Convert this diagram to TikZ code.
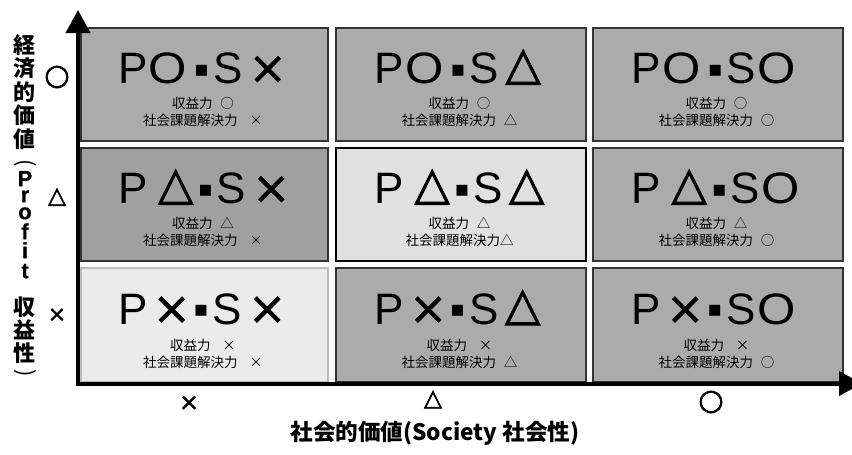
\documentclass[tikz,border=0pt]{standalone}
\usepackage{fontspec}
\usepackage{graphicx}
\usetikzlibrary{arrows.meta,calc}
\setmainfont{Noto Sans CJK JP}
\newfontfamily\jpf{Noto Sans CJK JP}
\newfontfamily\latf{Liberation Sans}
\newfontfamily\latvf[FakeBold=0.6]{Liberation Sans}
\newfontfamily\dvf{DejaVu Sans}
\newfontfamily\dvmf[FakeBold=1]{DejaVu Sans}
\newfontfamily\dvbf[FakeBold=2]{DejaVu Sans}
\definecolor{boxgray}{HTML}{ABABAB}
\definecolor{boxdark}{HTML}{A0A0A0}
\definecolor{boxlight}{HTML}{E0E0E0}
\definecolor{boxpale}{HTML}{EBEBEB}
\definecolor{edgedark}{HTML}{333333}
\definecolor{edgepale}{HTML}{BDBDBD}
% glyph placed with its centre #1 pt from the start
\newcommand\gl[2]{\makebox[0pt][l]{\hspace*{#1pt}\makebox[0pt][c]{#2}}}
\newcommand\tP{{\latf P}}
\newcommand\tS{{\latf S}}
\newcommand\tO{{\latf\scalebox{1.12}[1]{O}}}
\newcommand\tT{\raisebox{4.5pt}{\dvbf\fontsize{46}{46}\selectfont △}}
\newcommand\tX{{\dvmf\fontsize{46}{46}\selectfont ×}}
\newcommand\tD{\raisebox{7.5pt}{\dvf\fontsize{22}{22}\selectfont ▪}}
% #1 second glyph, #2 its centre, #3 dot centre, #4 S centre, #5 last glyph, #6 its centre
\newcommand\ttl[6]{\gl{0}{\tP}\gl{#2}{#1}\gl{#3}{\tD}\gl{#4}{\tS}\gl{#6}{#5}}
\newcommand\vc[2]{\rule{0pt}{#1pt}\smash{#2}\\}
\begin{document}
\begin{tikzpicture}[x=1pt,y=-1pt,
  cell/.style={draw=edgedark, line width=2.4pt, minimum height=112.6pt, inner sep=0pt, outer sep=0pt},
  colA/.style={minimum width=246.6pt},
  colB/.style={minimum width=249.6pt},
  title/.style={anchor=base west, inner sep=0pt, font=\fontsize{44}{44}\selectfont},
  sub/.style={inner sep=0pt, font=\jpf\fontsize{13.5}{14}\selectfont},
  tick/.style={inner sep=0pt, font=\dvbf\fontsize{29}{29}\selectfont},
  trig/.style={inner sep=0pt, font=\dvbf\fontsize{23}{23}\selectfont},
  cross/.style={inner sep=0pt, font=\dvmf\fontsize{22}{22}\selectfont},
  axis/.style={line width=4pt, -{Triangle[length=23pt,width=24pt]}},
  axlabel/.style={inner sep=0pt, font=\jpf\bfseries\fontsize{22.6}{24}\selectfont}]
\useasboundingbox (0,0) rectangle (852,455);
% cells
\node[cell, colA, fill=boxgray] (b11) at (204.5,84.5) {};
\node[cell, colB, fill=boxgray] (b12) at (461,84.5) {};
\node[cell, colB, fill=boxgray] (b13) at (718,84.5) {};
\node[cell, colA, fill=boxdark] (b21) at (204.5,204.5) {};
\node[cell, colB, fill=boxlight, draw=black] (b22) at (461,204.5) {};
\node[cell, colB, fill=boxgray] (b23) at (718,204.5) {};
\node[cell, colA, fill=boxpale, draw=edgepale, minimum height=113.6pt] (b31) at (204.5,325) {};
\node[cell, colB, fill=boxgray, minimum height=113.6pt] (b32) at (461,325) {};
\node[cell, colB, fill=boxgray, minimum height=113.6pt] (b33) at (718,325) {};
% titles
\node[title] (t11) at ($(b11.center)+(-72.5,-1)$) {\ttl{\tO}{35}{69}{95}{\tX}{135}};
\node[title] (t12) at ($(b12.center)+(-72.5,-1)$) {\ttl{\tO}{35}{69}{95}{\tT}{134}};
\node[title] (t13) at ($(b13.center)+(-72.5,-1)$) {\ttl{\tO}{35}{69}{95}{\tO}{130.5}};
\node[title] (t21) at ($(b21.center)+(-72.5,-1)$) {\ttl{\tT}{43}{73}{98.5}{\tX}{138.5}};
\node[title] (t22) at ($(b22.center)+(-72.5,-1)$) {\ttl{\tT}{43}{73}{98.5}{\tT}{137.5}};
\node[title] (t23) at ($(b23.center)+(-72.5,-1)$) {\ttl{\tT}{43}{73}{98.5}{\tO}{134}};
\node[title] (t31) at ($(b31.center)+(-72.5,-1)$) {\ttl{\tX}{39}{68.5}{94.5}{\tX}{134.5}};
\node[title] (t32) at ($(b32.center)+(-72.5,-1)$) {\ttl{\tX}{39}{68.5}{94.5}{\tT}{133.5}};
\node[title] (t33) at ($(b33.center)+(-72.5,-1)$) {\ttl{\tX}{39}{68.5}{94.5}{\tO}{130}};
% sub lines
\node[sub] (s11a) at ($(b11.center)+(-1.5,18.5)$) {収益力\hspace{8pt}○};
\node[sub] (s11b) at ($(b11.center)+(-1.5,35.5)$) {社会課題解決力\hspace{12pt}×};
\node[sub] (s12a) at ($(b12.center)+(-1.5,18.5)$) {収益力\hspace{8pt}○};
\node[sub] (s12b) at ($(b12.center)+(-1.5,35.5)$) {社会課題解決力\hspace{8pt}△};
\node[sub] (s13a) at ($(b13.center)+(-1.5,18.5)$) {収益力\hspace{8pt}○};
\node[sub] (s13b) at ($(b13.center)+(-1.5,35.5)$) {社会課題解決力\hspace{8pt}○};
\node[sub] (s21a) at ($(b21.center)+(-1.5,18.5)$) {収益力\hspace{8pt}△};
\node[sub] (s21b) at ($(b21.center)+(-1.5,35.5)$) {社会課題解決力\hspace{12pt}×};
\node[sub] (s22a) at ($(b22.center)+(-1.5,18.5)$) {収益力\hspace{8pt}△};
\node[sub] (s22b) at ($(b22.center)+(-1.5,35.5)$) {社会課題解決力△};
\node[sub] (s23a) at ($(b23.center)+(-1.5,18.5)$) {収益力\hspace{8pt}△};
\node[sub] (s23b) at ($(b23.center)+(-1.5,35.5)$) {社会課題解決力\hspace{8pt}○};
\node[sub] (s31a) at ($(b31.center)+(-1.5,20.5)$) {収益力\hspace{12pt}×};
\node[sub] (s31b) at ($(b31.center)+(-1.5,37)$) {社会課題解決力\hspace{12pt}×};
\node[sub] (s32a) at ($(b32.center)+(-1.5,20.5)$) {収益力\hspace{12pt}×};
\node[sub] (s32b) at ($(b32.center)+(-1.5,37)$) {社会課題解決力\hspace{8pt}△};
\node[sub] (s33a) at ($(b33.center)+(-1.5,20.5)$) {収益力\hspace{12pt}×};
\node[sub] (s33b) at ($(b33.center)+(-1.5,37)$) {社会課題解決力\hspace{8pt}○};
% axes
\coordinate (yo) at (78,386);
\coordinate (ytip) at (78,10);
\coordinate (xo) at (76,383.5);
\coordinate (xtip) at (862,383.5);
\draw[axis] (yo) -- (ytip);
\draw[axis] (xo) -- (xtip);
% ticks
\node[tick] (ly1) at (57,77) {○};
\node[trig] (ly2) at (57,197) {△};
\node[cross] (ly3) at (57,315) {×};
\node[cross, font=\dvmf\fontsize{24}{24}\selectfont] (lx1) at (189,403) {×};
\node[trig] (lx2) at (433,399.5) {△};
\node[tick] (lx3) at (711,402) {○};
% axis labels
\node[axlabel] (xlabel) at (435,433) {社会的価値(Society 社会性)};
\node[inner sep=0pt, anchor=north, font=\jpf\bfseries\fontsize{22}{22}\selectfont] (ylabel) at (25,30)
 {\renewcommand\arraystretch{0}\setlength\tabcolsep{0pt}%
  \begin{tabular}{c}
  \vc{23}{経}\vc{23.5}{済}\vc{23.5}{的}\vc{23.5}{価}\vc{23.5}{値}%
  \vc{23}{\mdseries\rotatebox[origin=c]{-90}{(}}\vc{16}{\latvf P}\vc{16}{\latvf r}\vc{17}{\latvf o}\vc{20}{\latvf f}\vc{19}{\latvf i}\vc{20}{\latvf t}%
  \vc{37}{収}\vc{23}{益}\vc{23}{性}\rule{0pt}{19pt}\smash{\mdseries\rotatebox[origin=c]{-90}{)}}
  \end{tabular}};
\end{tikzpicture}
\end{document}
